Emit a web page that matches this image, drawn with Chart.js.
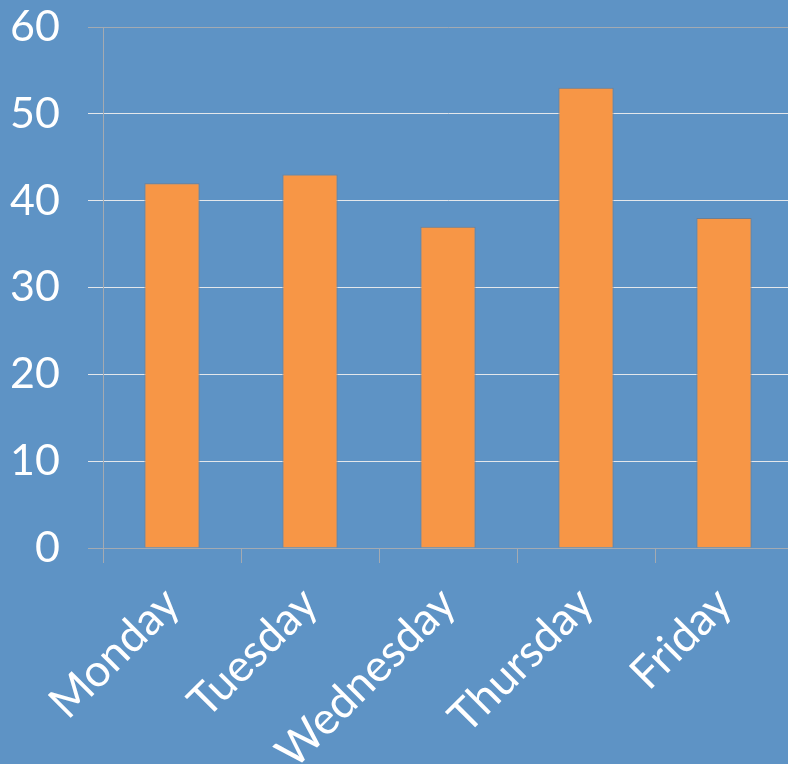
<!DOCTYPE html>
<html>
<head>
<meta charset="utf-8">
<script src="https://cdn.jsdelivr.net/npm/chart.js@4.4.1/dist/chart.umd.min.js"></script>
<style>
  html, body { margin: 0; padding: 0; background: #5E93C5; overflow: hidden; }
  #wrap { width: 800px; height: 764px; position: relative; }
</style>
</head>
<body>
<div id="wrap"><canvas id="c"></canvas></div>
<script>
const categories = ['Monday', 'Tuesday', 'Wednesday', 'Thursday', 'Friday'];
const values = [42, 43, 37, 53, 38];
const yTicks = [0, 10, 20, 30, 40, 50, 60];

const bgPlugin = {
  id: 'bg',
  beforeDraw(chart) {
    const ctx = chart.ctx;
    ctx.save();
    ctx.fillStyle = '#5E93C5';
    ctx.fillRect(0, 0, chart.width, chart.height);
    ctx.restore();
  }
};

new Chart(document.getElementById('c'), {
  type: 'bar',
  data: {
    labels: categories,
    datasets: [{
      data: values,
      backgroundColor: '#F79646',
      borderColor: '#6E7F92',
      borderWidth: 1,
      borderSkipped: 'bottom',
      barPercentage: 0.8,
      categoryPercentage: 0.5
    }]
  },
  options: {
    responsive: true,
    maintainAspectRatio: false,
    animation: false,
    layout: { padding: { top: 27, right: 7, left: 0, bottom: 0 } },
    plugins: { legend: { display: false }, tooltip: { enabled: false } },
    scales: {
      x: {
        offset: true,
        afterFit(scale) { scale.height = 216; scale.paddingLeft = 0; scale.paddingRight = 0; },
        grid: {
          offset: true,
          drawOnChartArea: false,
          drawTicks: true,
          tickLength: 15,
          color: '#A3AAB2',
          lineWidth: 1
        },
        border: { display: true, color: '#A3AAB2', width: 1 },
        ticks: {
          color: '#FFFFFF',
          minRotation: 45,
          maxRotation: 45,
          padding: 14,
          font: { family: 'Lato', size: 45 }
        }
      },
      y: {
        min: 0,
        max: 60,
        afterFit(scale) { scale.width = 103; scale.paddingTop = 0; scale.paddingBottom = 0; },
        afterBuildTicks(scale) { scale.ticks = yTicks.map(v => ({ value: v })); },
        grid: {
          drawTicks: true,
          tickLength: 15,
          color: (c) => (c.tick && (c.tick.value === 60 || c.tick.value === 0)) ? '#A3AAB2' : '#E4E7EB',
          lineWidth: 1
        },
        border: { display: true, color: '#A3AAB2', width: 1 },
        ticks: {
          color: '#FFFFFF',
          padding: 28,
          font: { family: 'Lato', size: 43 }
        }
      }
    }
  },
  plugins: [bgPlugin]
});
</script>
</body>
</html>
